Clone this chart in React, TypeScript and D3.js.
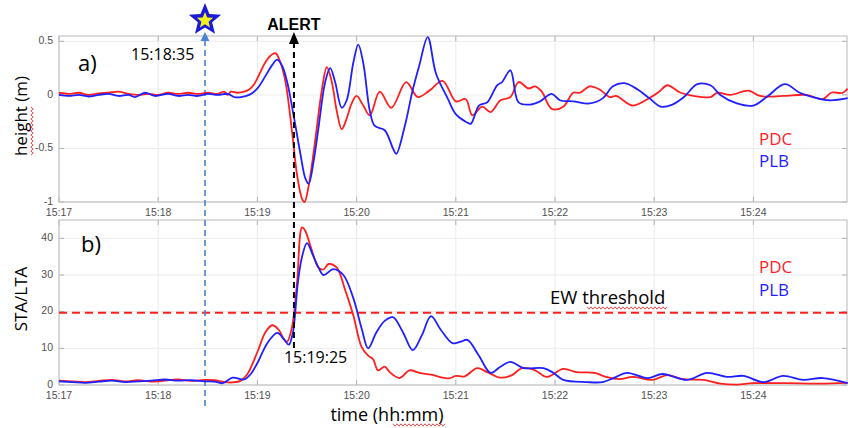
import React from 'react';
import * as d3 from 'd3';

// time in seconds after 15:17:00
const tickSeconds = [0, 60, 120, 180, 240, 300, 360, 420];
const tickLabels = ['15:17', '15:18', '15:19', '15:20', '15:21', '15:22', '15:23', '15:24'];
const heightTicks = [0.5, 0, -0.5, -1];
const heightTickLabels = ['0.5', '0', '-0.5', '-1'];
const staTicks = [0, 10, 20, 30, 40];

const eventTime = 88.3; // star / origin marker
const eventLabel = '15:18:35';
const alertTime = 142.1;
const alertLabel = '15:19:25';
const ewThreshold = 19.7;

const pdcHeight: [number, number][] = [
  [0, 0.02], [6, 0.01], [12, 0.02], [18, 0.0], [24, 0.015], [30, 0.02], [36, 0.03], [42, 0.01], [48, 0.0],
  [54, 0.01], [60, 0.0], [66, 0.02], [72, 0.01], [78, 0.02], [84, 0.01], [90, 0.02], [96, 0.01], [100, 0.03],
  [102, 0.0], [104, 0.03], [108, 0.02], [112, 0.03], [115, 0.05], [118, 0.1], [122, 0.22], [125, 0.31],
  [129, 0.38], [131, 0.39], [134, 0.3], [137, 0.12], [141, -0.35], [144, -0.75], [147, -0.97], [148.5, -1.0],
  [151, -0.85], [155, -0.42], [159, 0.05], [162, 0.26], [165, 0.12], [168, -0.15], [171, -0.32], [174, -0.22],
  [177, -0.08], [180, -0.01], [184, -0.1], [188, -0.19], [194, 0.03], [201, -0.12], [210, 0.12], [217, -0.02],
  [224, 0.04], [232, 0.13], [240, -0.06], [246, -0.04], [250, -0.19], [256, -0.11], [261, -0.16], [267, -0.05],
  [273, -0.02], [278, 0.12], [284, 0.06], [288, 0.08], [292, 0.03], [298, -0.13], [305, -0.11], [311, 0.02],
  [315, 0.02], [321, 0.08], [327, 0.05], [333, -0.02], [337, -0.01], [347, -0.1], [357, -0.03], [363, 0.03],
  [368, 0.09], [376, 0.02], [394, -0.02], [398, 0.02], [406, 0.0], [417, 0.04], [424, -0.01], [438, -0.01],
  [452, 0.0], [462, -0.04], [467, 0.02], [474, 0.02], [477, 0.06],
];

const plbHeight: [number, number][] = [
  [0, 0.0], [6, -0.01], [12, 0.0], [18, -0.015], [24, 0.0], [30, 0.01], [36, -0.01], [42, 0.0], [46, -0.02],
  [52, 0.02], [58, -0.01], [66, 0.01], [72, -0.01], [78, 0.0], [84, -0.01], [90, 0.01], [96, 0.0], [102, 0.01],
  [106, -0.02], [110, -0.02], [115, 0.0], [120, 0.06], [125, 0.18], [129, 0.28], [132, 0.33], [135, 0.27],
  [138, 0.12], [142, -0.2], [146, -0.55], [149, -0.78], [151, -0.83], [154, -0.62], [157, -0.3], [161, 0.12],
  [164, 0.25], [167, 0.12], [171, -0.12], [174, -0.05], [178, 0.3], [181, 0.47], [184, 0.3], [188, -0.15],
  [191, -0.29], [197, -0.33], [202, -0.5], [204, -0.55], [209, -0.3], [214, 0.05], [218, 0.28], [223, 0.54],
  [228, 0.2], [235, -0.03], [240, -0.18], [246, -0.25], [249, -0.27], [254, -0.1], [259, -0.07], [265, 0.09],
  [268, 0.12], [273, 0.23], [278, -0.07], [285, -0.09], [291, -0.06], [298, 0.01], [303, -0.05], [311, -0.06],
  [321, -0.08], [329, -0.03], [335, 0.08], [342, 0.11], [350, 0.05], [357, -0.03], [364, -0.11], [371, -0.09],
  [378, -0.02], [386, 0.1], [394, 0.09], [400, 0.0], [410, -0.08], [420, -0.1], [428, -0.02], [439, 0.1],
  [448, 0.02], [456, -0.02], [466, -0.05], [477, -0.03],
];

const pdcSta: [number, number][] = [
  [0, 1.2], [8, 1.0], [16, 0.8], [24, 1.1], [32, 1.4], [40, 1.0], [48, 1.3], [56, 0.9], [64, 1.2], [72, 1.5],
  [80, 1.1], [88, 1.4], [94, 1.3], [100, 0.8], [105, 0.7], [110, 1.2], [114, 3.0], [120, 9], [125, 14.5],
  [129, 16.3], [133, 15], [136, 12.5], [138, 11.8], [141, 16], [144, 28], [147, 43], [149, 42], [152, 38],
  [157, 32], [160, 31.5], [163, 33], [168, 32], [173, 26], [178, 19], [183, 10.4], [187, 8], [190, 7], [193, 4],
  [197, 5], [200, 3.5], [206, 1.9], [212, 4], [218, 3.3], [225, 2.8], [236, 1.8], [240, 2.5], [245, 2.3],
  [253, 4.6], [259, 3.5], [267, 2.0], [274, 2.7], [280, 4.6], [288, 4.0], [295, 2.2], [305, 4.4], [313, 3.5],
  [324, 3.3], [331, 2.2], [339, 1.6], [347, 2.2], [359, 1.4], [368, 2.7], [377, 1.6], [390, 1.4], [400, 0.4],
  [410, 0.1], [420, 0.5], [440, 0.5], [460, 0.4], [477, 0.6],
];

const plbSta: [number, number][] = [
  [0, 1.0], [8, 0.8], [16, 0.6], [24, 0.9], [32, 1.2], [40, 0.8], [48, 1.0], [56, 1.2], [64, 1.5], [72, 1.2],
  [80, 1.3], [88, 1.0], [94, 0.9], [99, 0.5], [105, 2.0], [112, 1.5], [116, 3], [120, 6], [126, 11.4],
  [132, 14.2], [136, 12.5], [139, 11], [141.5, 14.4], [144.5, 28], [147, 35], [150, 38.7], [153.6, 35.4],
  [157, 32], [160, 30], [166, 31.6], [172, 30], [178, 23.7], [183, 15.5], [187, 10], [192, 14.4], [197, 17.5],
  [202, 18.5], [208, 14.4], [214, 9.5], [219.5, 13.6], [225, 18.8], [231, 15], [238, 11.4], [243, 11.8],
  [247, 12.3], [254, 8], [261, 3.3], [267, 5], [273, 6.3], [281, 4.6], [293, 4.6], [299, 3.3], [305, 1.4],
  [319, 0.8], [329, 0.8], [336, 2.0], [343.5, 3.3], [356, 1.9], [365, 3], [380, 1.4], [392, 3.3], [404, 2.2],
  [414, 2.5], [426, 0.8], [438, 2.5], [450, 1.4], [462, 1.9], [477, 0.5],
];

const RED = '#ff1f1f';
const BLUE = '#1f1fff';
const TXT = 'Open Sans, Liberation Sans, sans-serif';
const TICKF = 'Liberation Sans, Arial, sans-serif';

const W = 848;
const H = 428;
const left = 59;
const right = 847;
const topA = 36, botA = 202;
const topB = 220, botB = 385;

function wavy(x1: number, x2: number, y: number, vertical = false) {
  let d = '';
  const step = 2;
  let i = 0;
  for (let p = x1; p <= x2; p += step, i++) {
    const off = i % 2 === 0 ? -1.2 : 1.2;
    const pt = vertical ? `${y + off},${p}` : `${p},${y + off}`;
    d += (i === 0 ? 'M' : 'L') + pt;
  }
  return d;
}

function starPath(cx: number, cy: number, ro: number, ri: number) {
  const pts: string[] = [];
  for (let i = 0; i < 10; i++) {
    const r = i % 2 === 0 ? ro : ri;
    const a = -Math.PI / 2 + (i * Math.PI) / 5;
    pts.push(`${cx + r * Math.cos(a)},${cy + r * Math.sin(a)}`);
  }
  return 'M' + pts.join('L') + 'Z';
}

export default function App() {
  const x = d3.scaleLinear().domain([0, 476.6]).range([left, right]);
  const yA = d3.scaleLinear().domain([-1, 0.55]).range([botA, topA]);
  const yB = d3.scaleLinear().domain([0, 45]).range([botB, topB]);

  const lineA = d3.line<[number, number]>().x(d => x(d[0])).y(d => yA(d[1])).curve(d3.curveCatmullRom.alpha(0.5));
  const lineB = d3.line<[number, number]>().x(d => x(d[0])).y(d => yB(d[1])).curve(d3.curveCatmullRom.alpha(0.5));

  const ex = x(eventTime);
  const ax = x(alertTime);

  const panel = (top: number, bot: number, yTicks: number[], yScale: any, yLabels: string[], labelY: number) => (
    <g>
      <rect x={left} y={top} width={right - left} height={bot - top} fill="#fff" />
      {tickSeconds.map(t => (
        <line key={'gx' + t} x1={x(t)} x2={x(t)} y1={top} y2={bot} stroke="#ebebeb" strokeWidth={1} />
      ))}
      {yTicks.map(v => (
        <line key={'gy' + v} x1={left} x2={right} y1={yScale(v)} y2={yScale(v)} stroke="#ebebeb" strokeWidth={1} />
      ))}
      {tickSeconds.map(t => (
        <g key={'tx' + t}>
          <line x1={x(t)} x2={x(t)} y1={bot} y2={bot - 5} stroke="#b0b0b0" />
          <line x1={x(t)} x2={x(t)} y1={top} y2={top + 5} stroke="#b0b0b0" />
        </g>
      ))}
      {yTicks.map(v => (
        <g key={'ty' + v}>
          <line x1={left} x2={left + 5} y1={yScale(v)} y2={yScale(v)} stroke="#b0b0b0" />
          <line x1={right} x2={right - 5} y1={yScale(v)} y2={yScale(v)} stroke="#b0b0b0" />
        </g>
      ))}
      <rect x={left} y={top} width={right - left} height={bot - top} fill="none" stroke="#c4c4c4" strokeWidth={1.2} />
      {yTicks.map((v, i) => (
        <text key={'yl' + v} x={left - 6} y={yScale(v) - 1} dy="0.35em" textAnchor="end" fontFamily={TICKF} fontSize={10.5} fill="#505050">
          {yLabels[i]}
        </text>
      ))}
      {tickSeconds.map((t, i) => (
        <text key={'xl' + t} x={x(t)} y={labelY} dy="0.35em" textAnchor="middle" fontFamily={TICKF} fontSize={10.5} fill="#505050">
          {tickLabels[i]}
        </text>
      ))}
    </g>
  );

  return (
    <svg width={W} height={H} style={{ position: 'absolute', left: 0, top: 0, background: '#fff' }}>
      <rect width={W} height={H} fill="#fff" />
      {panel(topA, botA, heightTicks, yA, heightTickLabels, 212)}
      {panel(topB, botB, staTicks, yB, staTicks.map(String), 395)}

      {/* threshold */}
      <line x1={left} x2={right} y1={yB(ewThreshold)} y2={yB(ewThreshold)} stroke={RED} strokeWidth={1.8} strokeDasharray="8,5" />

      {/* event vertical dashed line */}
      <line x1={ex} x2={ex} y1={40} y2={408} stroke="#4a7fd4" strokeWidth={1.6} strokeDasharray="6,4" />
      <path d={`M${ex - 4.5},41 L${ex + 4.5},41 L${ex},32 Z`} fill="#4a86d4" />
      <path d={starPath(ex, 20, 17, 7.5)} fill="#1a1ad8" />
      <path d={starPath(ex, 20.5, 8.5, 3.8)} fill="#f4f01a" />

      {/* data lines */}
      <path d={lineA(pdcHeight) || ''} fill="none" stroke={RED} strokeWidth={1.8} />
      <path d={lineA(plbHeight) || ''} fill="none" stroke={BLUE} strokeWidth={1.8} />
      <path d={lineB(pdcSta) || ''} fill="none" stroke={RED} strokeWidth={1.8} />
      <path d={lineB(plbSta) || ''} fill="none" stroke={BLUE} strokeWidth={1.8} />

      {/* alert line */}
      <line x1={ax} x2={ax} y1={42} y2={352} stroke="#000" strokeWidth={2} strokeDasharray="6,4" />
      <path d={`M${ax - 5},44 L${ax + 5},44 L${ax},32 Z`} fill="#000" />
      <text x={ax} y={30} textAnchor="middle" fontFamily="Liberation Sans, Arial, sans-serif" fontWeight="bold" fontSize={16} fill="#000">ALERT</text>
      <text x={ax - 10} y={363} fontFamily={TXT} fontSize={16} fill="#000">{alertLabel}</text>

      <text x={131} y={60} fontFamily={TXT} fontSize={16} fill="#000">{eventLabel}</text>

      <text x={78} y={71} fontFamily={TXT} fontSize={22} fill="#000">a)</text>
      <text x={81} y={252} fontFamily={TXT} fontSize={22} fill="#000">b)</text>

      <text x={759} y={145} fontFamily={TXT} fontSize={17} fill={RED}>PDC</text>
      <text x={759} y={167} fontFamily={TXT} fontSize={17} fill={BLUE}>PLB</text>
      <text x={759} y={273} fontFamily={TXT} fontSize={17} fill={RED}>PDC</text>
      <text x={759} y={296} fontFamily={TXT} fontSize={17} fill={BLUE}>PLB</text>

      <text x={550} y={304} fontFamily={TXT} fontSize={18.5} fill="#000">EW threshold</text>
      <path d={wavy(587, 667, 308)} fill="none" stroke="#e02020" strokeWidth={0.8} />

      <text transform="translate(27,116) rotate(-90)" textAnchor="middle" fontFamily={TXT} fontSize={17} fill="#000">height (m)</text>
      <path d={wavy(107, 155, 32, true)} fill="none" stroke="#e02020" strokeWidth={0.8} />
      <text transform="translate(27,299) rotate(-90)" textAnchor="middle" fontFamily={TXT} fontSize={17} fill="#000">STA/LTA</text>

      <text x={387} y={421} textAnchor="middle" fontFamily={TXT} fontSize={18} fill="#000">time (hh:mm)</text>
      <path d={wavy(393, 446, 425)} fill="none" stroke="#e02020" strokeWidth={0.8} />
    </svg>
  );
}
